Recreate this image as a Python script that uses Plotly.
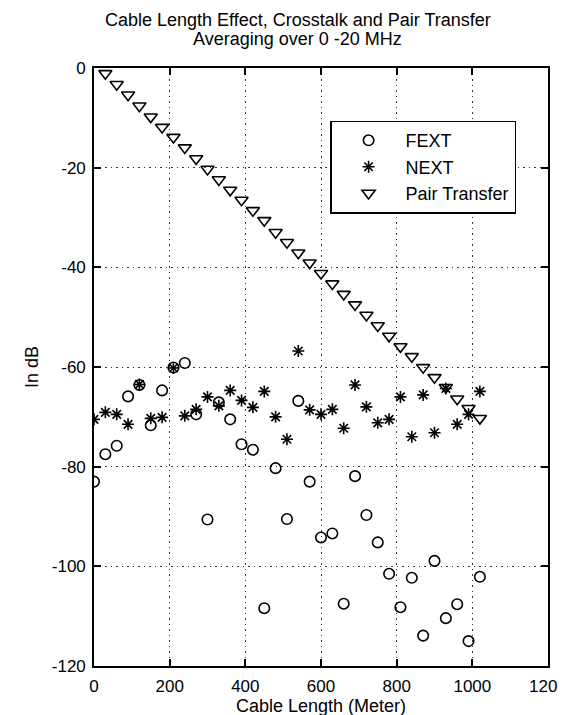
import plotly.graph_objects as go

# Cable length (m)
length_fext_next = [0, 30, 60, 90, 120, 150, 180, 210, 240, 270, 300, 330, 360, 390, 420,
                    450, 480, 510, 540, 570, 600, 630, 660, 690, 720, 750, 780, 810, 840,
                    870, 900, 930, 960, 990, 1020]
length_pair = length_fext_next[1:]

fext_db = [-83.0, -77.5, -75.8, -65.9, -63.6, -71.7, -64.7, -60.1, -59.2, -69.5, -90.6,
           -67.1, -70.5, -75.5, -76.6, -108.4, -80.3, -90.5, -66.8, -83.0, -94.2, -93.4,
           -107.5, -81.9, -89.7, -95.2, -101.5, -108.2, -102.3, -113.9, -98.9, -110.4,
           -107.6, -115.0, -102.1]

next_db = [-70.5, -69.1, -69.5, -71.5, -63.5, -70.3, -70.1, -60.2, -69.8, -68.5, -66.0,
           -67.8, -64.7, -66.7, -68.1, -64.9, -70.0, -74.5, -56.8, -68.6, -69.5, -68.5,
           -72.3, -63.6, -68.0, -71.2, -70.5, -66.0, -74.0, -65.6, -73.2, -64.3, -71.5,
           -69.5, -64.9]

pair_db = [-1.1, -3.3, -5.4, -7.6, -9.8, -11.9, -13.9, -16.0, -18.2, -20.3, -22.4, -24.5,
           -26.5, -28.6, -30.6, -33.0, -35.0, -37.1, -39.1, -41.2, -43.3, -45.4, -47.5,
           -49.6, -51.7, -53.8, -55.9, -57.9, -60.1, -62.1, -64.1, -66.4, -68.3, -70.3]

x_ticks = [0, 200, 400, 600, 800, 1000, 1200]
x_tick_text = ["0", "200", "400", "600", "800", "1000", "1200"]
y_ticks = [0, -20, -40, -60, -80, -100, -120]
y_tick_text = ["0", "-20", "-40", "-60", "-80", "-100", "-120"]

title_lines = ["Cable Length Effect, Crosstalk and Pair Transfer", "Averaging over 0 -20 MHz"]

FONT = "Liberation Sans, Arial, sans-serif"

fig = go.Figure()
fig.add_trace(go.Scatter(x=length_fext_next, y=fext_db, mode="markers", name="FEXT",
                         marker=dict(symbol="circle-open", size=10.5, color="black",
                                     line=dict(width=1.6, color="black"))))
fig.add_trace(go.Scatter(x=length_fext_next, y=next_db, mode="markers", name="NEXT",
                         marker=dict(symbol="asterisk-open", size=10, color="black",
                                     line=dict(width=1.6, color="black"))))
fig.add_trace(go.Scatter(x=length_pair, y=pair_db, mode="markers", name="Pair Transfer",
                         marker=dict(symbol="triangle-down-open", size=11.5, color="black",
                                     line=dict(width=1.6, color="black"))))

axis_common = dict(
    showline=True, linecolor="black", linewidth=1.6, mirror="ticks",
    ticks="inside", ticklen=7, tickwidth=1.5, tickcolor="black",
    showgrid=True, gridcolor="#333333", gridwidth=1, griddash="1.5px,4px",
    zeroline=False, tickfont=dict(family=FONT, size=17, color="black"),
)

fig.update_xaxes(range=[0, 1200], tickvals=x_ticks, ticktext=x_tick_text,
                 title=dict(text="Cable Length (Meter)", font=dict(family=FONT, size=18, color="black"),
                            standoff=4),
                 ticklabelstandoff=4, **axis_common)
fig.update_yaxes(range=[-120, 0], tickvals=y_ticks, ticktext=y_tick_text,
                 title=dict(text="In dB", font=dict(family=FONT, size=18, color="black"),
                            standoff=8),
                 ticklabelstandoff=3, **axis_common)

fig.update_layout(
    width=566, height=715,
    margin=dict(l=86, r=26, t=60, b=57, autoexpand=False),
    paper_bgcolor="white", plot_bgcolor="white",
    font=dict(family=FONT, size=17, color="black"),
    showlegend=True,
    legend=dict(x=0.52, y=0.912, xanchor="left", yanchor="top",
                bgcolor="white", bordercolor="black", borderwidth=1.5,
                font=dict(family=FONT, size=18, color="black"),
                itemwidth=64, tracegroupgap=0),
    annotations=[
        dict(text=title_lines[0], xref="paper", yref="paper", x=0.449, y=1.0803,
             xanchor="center", yanchor="middle", showarrow=False,
             font=dict(family=FONT, size=18, color="black")),
        dict(text=title_lines[1], xref="paper", yref="paper", x=0.449, y=1.0485,
             xanchor="center", yanchor="middle", showarrow=False,
             font=dict(family=FONT, size=18, color="black")),
    ],
)

fig.write_html("out.html")
